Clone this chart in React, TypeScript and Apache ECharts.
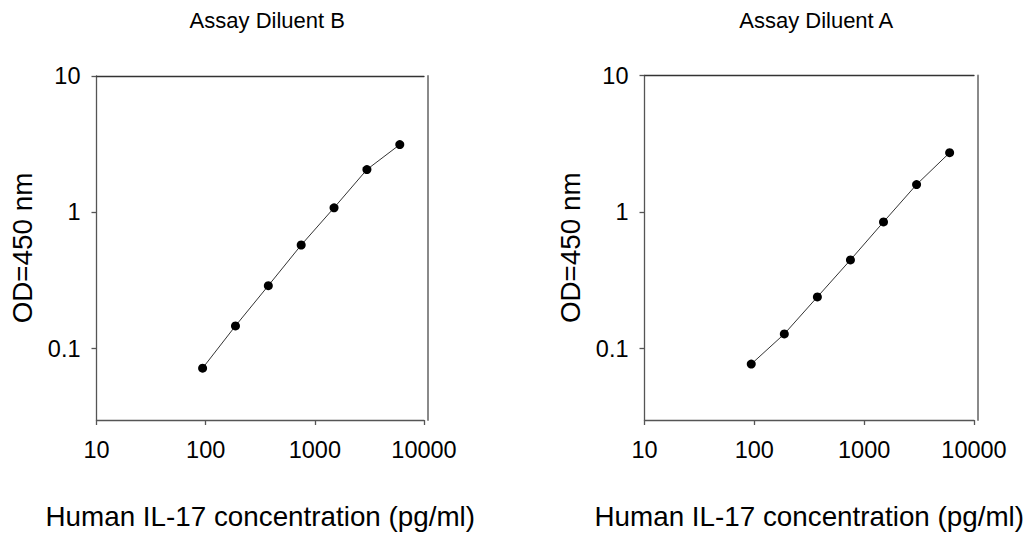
import React, { useEffect, useRef } from "react";
import * as echarts from "echarts";

// IL-17 standard concentrations (pg/ml)
const concentrations = [93.75, 187.5, 375, 750, 1500, 3000, 6000];
// OD at 450 nm
const odDiluentB = [0.072, 0.147, 0.29, 0.576, 1.08, 2.06, 3.14];
const odDiluentA = [0.077, 0.128, 0.239, 0.446, 0.846, 1.59, 2.72];

const xTicks = [10, 100, 1000, 10000];
const yTicks = [0.1, 1, 10];
const panelTitles = ["Assay Diluent B", "Assay Diluent A"];
const xName = "Human IL-17 concentration (pg/ml)";
const yName = "OD=450 nm";

const FONT = "'Liberation Sans', Arial, Helvetica, sans-serif";

function fmt(v: number) {
  return String(Number(Number(v).toPrecision(6)));
}

export default function App() {
  const ref = useRef<HTMLDivElement>(null);

  useEffect(() => {
    document.body.style.margin = "0";
    const chart = echarts.init(ref.current!, null, { renderer: "svg" });

    const grids = [
      { left: 96.5, top: 76, width: 327.5, height: 349.5 },
      { left: 644.5, top: 75.5, width: 329.5, height: 350.5 },
    ];
    const seriesData = [odDiluentB, odDiluentA];

    const xAxis: any[] = [];
    const yAxis: any[] = [];
    const series: any[] = [];
    const graphic: any[] = [];

    grids.forEach((g, i) => {
      xAxis.push({
        gridIndex: i,
        type: "log",
        logBase: 10,
        min: 10,
        max: 10000,
        position: "bottom",
        axisLine: { show: true, onZero: false, lineStyle: { color: "#555", width: 1.3 } },
        axisTick: { show: true, length: 5, customValues: xTicks, lineStyle: { color: "#555", width: 1.3 } },
        axisLabel: {
          show: true,
          customValues: xTicks,
          formatter: fmt,
          margin: 18,
          fontSize: 23.5,
          color: "#000",
          fontFamily: FONT,
        },
        splitLine: { show: false },
        minorTick: { show: false },
        name: xName,
        nameLocation: "middle",
        nameGap: 82,
        nameTextStyle: { fontSize: 27.8, color: "#000", fontFamily: FONT },
      });
      xAxis.push({
        gridIndex: i,
        type: "log",
        logBase: 10,
        min: 10,
        max: 10000,
        position: "top",
        axisLine: { show: true, onZero: false, lineStyle: { color: "#333", width: 1.3 } },
        axisTick: { show: false },
        axisLabel: { show: false },
        splitLine: { show: false },
      });
      yAxis.push({
        gridIndex: i,
        type: "log",
        logBase: 10,
        min: 0.03,
        max: 10,
        position: "left",
        axisLine: { show: true, onZero: false, lineStyle: { color: "#555", width: 1.3 } },
        axisTick: { show: true, length: 5, customValues: yTicks, lineStyle: { color: "#555", width: 1.3 } },
        axisLabel: {
          show: true,
          customValues: yTicks,
          formatter: fmt,
          margin: 16,
          fontSize: 23.5,
          color: "#000",
          fontFamily: FONT,
        },
        splitLine: { show: false },
        name: yName,
        nameLocation: "middle",
        nameGap: 60,
        nameTextStyle: { fontSize: 27.8, color: "#000", fontFamily: FONT },
      });
      yAxis.push({
        gridIndex: i,
        type: "log",
        logBase: 10,
        min: 0.03,
        max: 10,
        position: "right",
        offset: 4,
        axisLine: { show: true, onZero: false, lineStyle: { color: "#8a8a8a", width: 2 } },
        axisTick: { show: false },
        axisLabel: { show: false },
        splitLine: { show: false },
      });

      series.push({
        type: "line",
        xAxisIndex: i * 2,
        yAxisIndex: i * 2,
        data: concentrations.map((c, k) => [c, seriesData[i][k]]),
        symbol: "circle",
        symbolSize: 9,
        itemStyle: { color: "#000" },
        lineStyle: { color: "#333", width: 1 },
        emphasis: { disabled: true },
        silent: true,
      });

      graphic.push({
        type: "text",
        x: g.left + g.width / 2 + 7,
        y: 20,
        style: {
          text: panelTitles[i],
          fontSize: 22,
          fontFamily: FONT,
          fill: "#000",
          align: "center",
          verticalAlign: "middle",
          textAlign: "center",
          textVerticalAlign: "middle",
        },
      });
    });

    chart.setOption({
      animation: false,
      backgroundColor: "#fff",
      grid: grids.map((g) => ({ ...g, containLabel: false })),
      xAxis,
      yAxis,
      series,
      graphic,
    });

    return () => {
      chart.dispose();
    };
  }, []);

  return (
    <div
      ref={ref}
      style={{ position: "absolute", left: 0, top: 0, width: 1031, height: 535 }}
    />
  );
}
